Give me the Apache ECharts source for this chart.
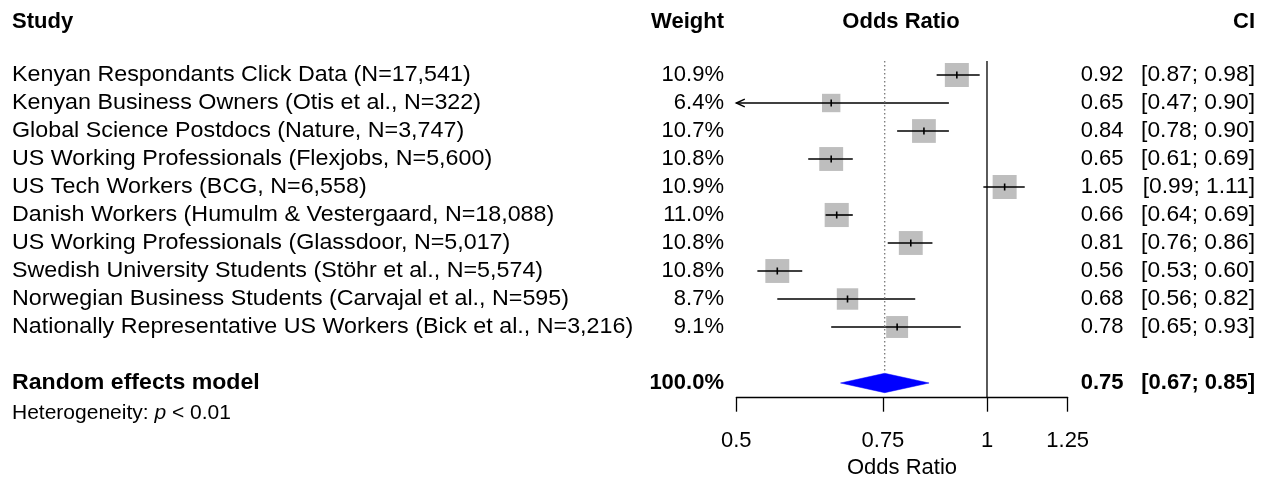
<!DOCTYPE html>
<html>
<head>
<meta charset="utf-8">
<script src="https://cdn.jsdelivr.net/npm/echarts@6/dist/echarts.min.js"></script>
<style>
html,body{margin:0;padding:0;background:#fff;}
#chart{width:1268px;height:483px;}
</style>
</head>
<body>
<div id="chart"></div>
<script>
// ---------------- data ----------------
const studies = [
  'Kenyan Respondants Click Data (N=17,541)',
  'Kenyan Business Owners (Otis et al., N=322)',
  'Global Science Postdocs (Nature, N=3,747)',
  'US Working Professionals (Flexjobs, N=5,600)',
  'US Tech Workers (BCG, N=6,558)',
  'Danish Workers (Humulm & Vestergaard, N=18,088)',
  'US Working Professionals (Glassdoor, N=5,017)',
  'Swedish University Students (Stöhr et al., N=5,574)',
  'Norwegian Business Students (Carvajal et al., N=595)',
  'Nationally Representative US Workers (Bick et al., N=3,216)'
];
const weights   = [10.9, 6.4, 10.7, 10.8, 10.9, 11.0, 10.8, 10.8, 8.7, 9.1];
const oddsRatio = [0.92, 0.65, 0.84, 0.65, 1.05, 0.66, 0.81, 0.56, 0.68, 0.78];
const ciLower   = [0.87, 0.47, 0.78, 0.61, 0.99, 0.64, 0.76, 0.53, 0.56, 0.65];
const ciUpper   = [0.98, 0.90, 0.90, 0.69, 1.11, 0.69, 0.86, 0.60, 0.82, 0.93];
const pooledLabel = 'Random effects model';
const pooledWeight = 100.0;
const pooledEst = 0.7536;
const pooledLower = 0.667;
const pooledUpper = 0.852;
const hetLabel = 'Heterogeneity: ';
const hetP = '< 0.01';
const tickValues = [0.5, 0.75, 1, 1.25];
const tickLabels = ['0.5', '0.75', '1', '1.25'];
const nullValue = 1;
const headers = ['Study', 'Weight', 'Odds Ratio', 'CI'];

// ---------------- layout ----------------
const FONT = '"Liberation Sans", Arial, Helvetica, sans-serif';
const FS = 22;
const X_MIN = Math.log(tickValues[0]);
const X_MAX = Math.log(tickValues[tickValues.length - 1]);
const Y_MIN = 0.5, Y_MAX = 12.525;
const SUMMARY_ROW = 12;
const HEADER_ROW = -0.89;
const HET_ROW = 13.07;
const SQ_REF = 24, SQ_W = 10.9;
const DIAMOND_H = 9.7;

const COL_STUDY = 12;
const COL_WEIGHT = 724;
const COL_EST = 1123.5;
const COL_CI = 1255;
const COL_OR_HEAD = 901;
const LABEL_SX = 1.058;
const BOLD_LABEL_SX = 1.05;
const CI_SX = 1.035;

const fmt2 = v => v.toFixed(2);

const chart = echarts.init(document.getElementById('chart'), null, {renderer: 'canvas'});

const ciData = studies.map((s, i) => [i + 1, Math.log(oddsRatio[i]), Math.log(ciLower[i]), Math.log(ciUpper[i]), weights[i]]);

function renderCI(params, api) {
  const row = api.value(0), est = api.value(1), lo = api.value(2), hi = api.value(3), w = api.value(4);
  const c = api.coord([est, row]);
  const size = SQ_REF * Math.sqrt(w / SQ_W);
  const loC = Math.max(lo, X_MIN), hiC = Math.min(hi, X_MAX);
  const p1 = api.coord([loC, row]), p2 = api.coord([hiC, row]);
  const y = c[1];
  const children = [
    {type: 'rect', shape: {x: c[0] - size / 2, y: c[1] - size / 2, width: size, height: size}, style: {fill: '#BEBEBE'}},
    {type: 'line', shape: {x1: p1[0], y1: y, x2: p2[0], y2: y}, style: {stroke: '#000', lineWidth: 1.6}},
    {type: 'line', shape: {x1: c[0], y1: y - 3.5, x2: c[0], y2: y + 3.5}, style: {stroke: '#000', lineWidth: 1.6}}
  ];
  if (lo < X_MIN) {
    children.push({type: 'polyline', shape: {points: [[p1[0] + 8.5, y - 3.8], [p1[0], y], [p1[0] + 8.5, y + 3.8]]}, style: {stroke: '#000', fill: null, lineWidth: 1.4}});
  }
  if (hi > X_MAX) {
    children.push({type: 'polyline', shape: {points: [[p2[0] - 8.5, y - 3.8], [p2[0], y], [p2[0] - 8.5, y + 3.8]]}, style: {stroke: '#000', fill: null, lineWidth: 1.4}});
  }
  return {type: 'group', children};
}

function renderDiamond(params, api) {
  const row = api.value(0);
  const e = api.coord([api.value(1), row]);
  const l = api.coord([api.value(2), row]);
  const u = api.coord([api.value(3), row]);
  return {
    type: 'polygon',
    shape: {points: [[l[0], l[1]], [e[0], e[1] - DIAMOND_H], [u[0], u[1]], [e[0], e[1] + DIAMOND_H]]},
    style: {fill: '#0000FF', stroke: '#0000FF', lineWidth: 0.5}
  };
}

function txt(x, y, text, align, bold, sx) {
  return {type: 'text', x: x, y: y, scaleX: sx || 1, style: {text: text, fill: '#000', fontFamily: FONT, fontSize: FS, fontWeight: bold ? 'bold' : 'normal', align: align, verticalAlign: 'middle'}};
}

// text rows: [rowValue, kind, index]
const textRows = [[HEADER_ROW, 'header', 0]]
  .concat(studies.map((s, i) => [i + 1, 'study', i]))
  .concat([[SUMMARY_ROW, 'summary', 0], [HET_ROW, 'het', 0]]);

function renderText(params, api) {
  const r = textRows[params.dataIndex];
  const y = api.coord([0, r[0]])[1];
  const kind = r[1], i = r[2];
  if (kind === 'header') {
    return {type: 'group', children: [
      txt(COL_STUDY, y, headers[0], 'left', true),
      txt(COL_WEIGHT, y, headers[1], 'right', true),
      txt(COL_OR_HEAD, y, headers[2], 'center', true),
      txt(COL_CI, y, headers[3], 'right', true)
    ]};
  }
  if (kind === 'study') {
    return {type: 'group', children: [
      txt(COL_STUDY, y, studies[i], 'left', false, LABEL_SX),
      txt(COL_WEIGHT, y, weights[i].toFixed(1) + '%', 'right', false),
      txt(COL_EST, y, fmt2(oddsRatio[i]), 'right', false),
      txt(COL_CI, y, '[' + fmt2(ciLower[i]) + '; ' + fmt2(ciUpper[i]) + ']', 'right', false, CI_SX)
    ]};
  }
  if (kind === 'summary') {
    return {type: 'group', children: [
      txt(COL_STUDY, y, pooledLabel, 'left', true, BOLD_LABEL_SX),
      txt(COL_WEIGHT, y, pooledWeight.toFixed(1) + '%', 'right', true),
      txt(COL_EST, y, fmt2(pooledEst), 'right', true),
      txt(COL_CI, y, '[' + fmt2(pooledLower) + '; ' + fmt2(pooledUpper) + ']', 'right', true)
    ]};
  }
  return {
    type: 'text', x: COL_STUDY, y: y,
    style: {
      text: '{a|' + hetLabel + '}{i|p}{a| ' + hetP + '}',
      fill: '#000', verticalAlign: 'middle', align: 'left',
      rich: {
        a: {fontFamily: FONT, fontSize: 21, fill: '#000'},
        i: {fontFamily: FONT, fontSize: 21, fontStyle: 'italic', fill: '#000'}
      }
    }
  };
}

const lnNull = Math.log(nullValue);
const lnPooled = Math.log(pooledEst);

const option = {
  backgroundColor: '#ffffff',
  animation: false,
  textStyle: {fontFamily: FONT},
  grid: {left: 736.3, right: 1268 - 1067.7, top: 61, bottom: 483 - 397.7, containLabel: false, outerBoundsMode: 'none'},
  xAxis: {
    type: 'value',
    min: X_MIN, max: X_MAX,
    axisLine: {show: true, onZero: false, lineStyle: {color: '#000', width: 1.3}},
    axisTick: {show: true, length: 14, customValues: tickValues.map(Math.log), lineStyle: {color: '#000', width: 1.3}},
    axisLabel: {
      show: true, margin: 32, fontSize: FS, color: '#000', fontFamily: FONT,
      customValues: tickValues.map(Math.log),
      showMinLabel: true, showMaxLabel: true, hideOverlap: false,
      formatter: function (v) {
        for (let k = 0; k < tickValues.length; k++) {
          if (Math.abs(Math.log(tickValues[k]) - v) < 1e-6) return tickLabels[k];
        }
        return '';
      }
    },
    splitLine: {show: false},
    name: 'Odds Ratio', nameLocation: 'middle', nameGap: 59,
    nameTextStyle: {fontSize: FS, color: '#000', fontFamily: FONT}
  },
  yAxis: {type: 'value', inverse: true, min: Y_MIN, max: Y_MAX, show: false, splitLine: {show: false}},
  series: [
    {
      type: 'line', silent: true, symbol: 'none', clip: false,
      data: [[lnPooled, Y_MIN], [lnPooled, SUMMARY_ROW - 0.35]],
      lineStyle: {color: '#7F7F7F', width: 1.4, type: [1.5, 2.5]}
    },
    {
      type: 'line', silent: true, symbol: 'none', clip: false,
      data: [[lnNull, Y_MIN], [lnNull, Y_MAX]],
      lineStyle: {color: '#000', width: 1.3, type: 'solid'}
    },
    {
      type: 'custom', silent: true, clip: false,
      renderItem: renderCI,
      encode: {x: [1, 2, 3], y: 0},
      data: ciData
    },
    {
      type: 'custom', silent: true, clip: false,
      renderItem: renderDiamond,
      encode: {x: [1, 2, 3], y: 0},
      data: [[SUMMARY_ROW, Math.log(pooledEst), Math.log(pooledLower), Math.log(pooledUpper)]]
    },
    {
      type: 'custom', silent: true, clip: false,
      renderItem: renderText,
      encode: {y: 0},
      data: textRows.map(r => [r[0]])
    }
  ]
};
chart.setOption(option);
</script>
</body>
</html>
